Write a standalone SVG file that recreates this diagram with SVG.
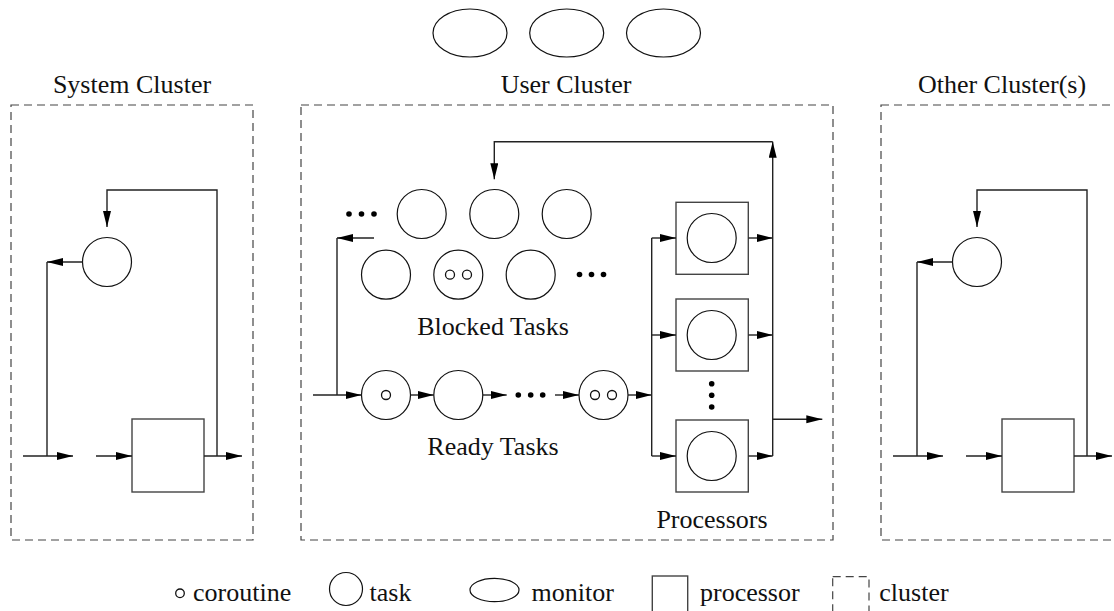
<svg xmlns="http://www.w3.org/2000/svg" width="1114" height="611" viewBox="0 0 1114 611">
<defs>
<style>
text{font-family:'Liberation Serif','Times New Roman',serif;font-size:26px;fill:#111}
.lbl{text-anchor:middle}
.cl{fill:none;stroke:#444;stroke-width:1.2;stroke-dasharray:8 5}
.t{fill:#fff;stroke:#111;stroke-width:1.2}
.c{fill:#fff;stroke:#111;stroke-width:1.3}
.p{fill:#fff;stroke:#444;stroke-width:1.4}
.m{fill:none;stroke:#222;stroke-width:1.4}
.e{fill:none;stroke:#222;stroke-width:1.4;marker-end:url(#ah)}
.d{fill:#000}
</style>
<marker id="ah" markerUnits="userSpaceOnUse" markerWidth="17" markerHeight="10" refX="16" refY="4" orient="auto">
<path d="M0,0 L16,4 L0,8 z" fill="#000"/>
</marker>
</defs>
<rect width="1114" height="611" fill="#fff"/>

<g id="monitors">
<ellipse class="t" cx="470" cy="33" rx="37" ry="24"/>
<ellipse class="t" cx="566.7" cy="33" rx="37" ry="24"/>
<ellipse class="t" cx="663.5" cy="33" rx="37" ry="24"/>
</g>

<g id="system-cluster">
<rect class="cl" x="11" y="105" width="242" height="435"/>
<text class="lbl" x="132" y="93">System Cluster</text>
</g>
<g id="user-cluster">
<rect class="cl" x="301" y="105" width="532" height="435"/>
<text class="lbl" x="566" y="93">User Cluster</text>
</g>
<g id="other-cluster">
<rect class="cl" x="881" y="105" width="242" height="435"/>
<text class="lbl" x="1002" y="93">Other Cluster(s)</text>
</g>

<g id="sys-task"><circle class="t" cx="107" cy="262" r="24.5"/></g>
<g id="sys-proc"><rect class="p" x="132" y="419" width="72" height="73"/></g>
<g id="oth-task"><circle class="t" cx="977" cy="262" r="24.5"/></g>
<g id="oth-proc"><rect class="p" x="1002" y="419" width="72" height="73"/></g>

<g id="blocked-tasks">
<circle class="d" cx="349" cy="214" r="2.8"/><circle class="d" cx="361.5" cy="214" r="2.8"/><circle class="d" cx="374" cy="214" r="2.8"/>
<circle class="t" cx="421.7" cy="214" r="24.5"/>
<circle class="t" cx="494.3" cy="214" r="24.5"/>
<circle class="t" cx="566.7" cy="214" r="24.5"/>
<circle class="t" cx="386" cy="274.7" r="24.5"/>
<circle class="t" cx="458.3" cy="274.7" r="24.5"/>
<circle class="c" cx="450" cy="274.7" r="4.5"/><circle class="c" cx="467" cy="274.7" r="4.5"/>
<circle class="t" cx="530.7" cy="274.7" r="24.5"/>
<circle class="d" cx="579.5" cy="274.5" r="2.8"/><circle class="d" cx="591.5" cy="274.5" r="2.8"/><circle class="d" cx="603.5" cy="274.5" r="2.8"/>
<text class="lbl" x="493" y="335">Blocked Tasks</text>
</g>

<g id="ready-tasks">
<circle class="t" cx="386" cy="395" r="24.5"/>
<circle class="c" cx="386" cy="395" r="4.5"/>
<circle class="t" cx="458.3" cy="395" r="24.5"/>
<circle class="d" cx="518.3" cy="395" r="2.8"/><circle class="d" cx="530.7" cy="395" r="2.8"/><circle class="d" cx="542.7" cy="395" r="2.8"/>
<circle class="t" cx="603.5" cy="395" r="24.5"/>
<circle class="c" cx="595" cy="395" r="4.5"/><circle class="c" cx="612" cy="395" r="4.5"/>
<text class="lbl" x="493" y="455">Ready Tasks</text>
</g>

<g id="processor-1">
<rect class="p" x="676" y="202.3" width="72.3" height="72"/>
<circle class="t" cx="711.7" cy="238" r="24.5"/>
</g>
<g id="processor-2">
<rect class="p" x="676" y="299" width="72.3" height="72"/>
<circle class="t" cx="711.7" cy="335" r="24.5"/>
</g>
<g id="processor-3">
<rect class="p" x="676" y="420" width="72.3" height="72"/>
<circle class="t" cx="711.7" cy="456" r="24.5"/>
</g>
<g id="processor-dots">
<circle class="d" cx="711.7" cy="383.7" r="2.8"/><circle class="d" cx="711.7" cy="395.3" r="2.8"/><circle class="d" cx="711.7" cy="407" r="2.8"/>
<text class="lbl" x="712" y="528">Processors</text>
</g>

<g id="connectors">
<path class="e" d="M82.5,262 H47"/>
<path class="m" d="M47,262 V456"/>
<path class="e" d="M23,456 H73"/>
<path class="e" d="M96,456 H132"/>
<path class="e" d="M204,456 H242"/>
<path class="e" d="M217,456 V190 H107 V227"/>
<path class="e" d="M952.5,262 H917"/>
<path class="m" d="M917,262 V456"/>
<path class="e" d="M893,456 H943"/>
<path class="e" d="M966,456 H1002"/>
<path class="e" d="M1074,456 H1112"/>
<path class="e" d="M1087,456 V190 H977 V227"/>
<path class="e" d="M374,238 H337"/>
<path class="m" d="M337,238 V395"/>
<path class="e" d="M313,395 H361.5"/>
<path class="e" d="M410.5,395 H433.8"/>
<path class="e" d="M482.8,395 H506.7"/>
<path class="e" d="M555,395 H579"/>
<path class="e" d="M628,395 H651.7"/>
<path class="m" d="M651.7,238 V456"/>
<path class="e" d="M651.7,238 H676"/>
<path class="e" d="M651.7,335 H676"/>
<path class="e" d="M651.7,456 H676"/>
<path class="e" d="M748.3,238 H772.7"/>
<path class="e" d="M748.3,335 H772.7"/>
<path class="e" d="M748.3,456 H772.7"/>
<path class="e" d="M772.7,456 V141.7"/>
<path class="e" d="M772.7,141.7 H494.3 V179.3"/>
<path class="e" d="M772.7,419.3 H822.3"/>
</g>

<g id="legend">
<circle class="c" cx="180" cy="593.3" r="4.3"/>
<text x="193" y="600.5">coroutine</text>
<circle class="t" cx="346" cy="589" r="16.5"/>
<text x="369.5" y="600.5">task</text>
<ellipse class="t" cx="494.5" cy="590" rx="24.5" ry="11.7"/>
<text x="531.5" y="600.5">monitor</text>
<rect class="p" x="652.3" y="576" width="35.4" height="40"/>
<text x="700" y="600.5">processor</text>
<rect class="cl" x="832.7" y="576.7" width="36.3" height="40"/>
<text x="879.3" y="600.5">cluster</text>
</g>
</svg>
